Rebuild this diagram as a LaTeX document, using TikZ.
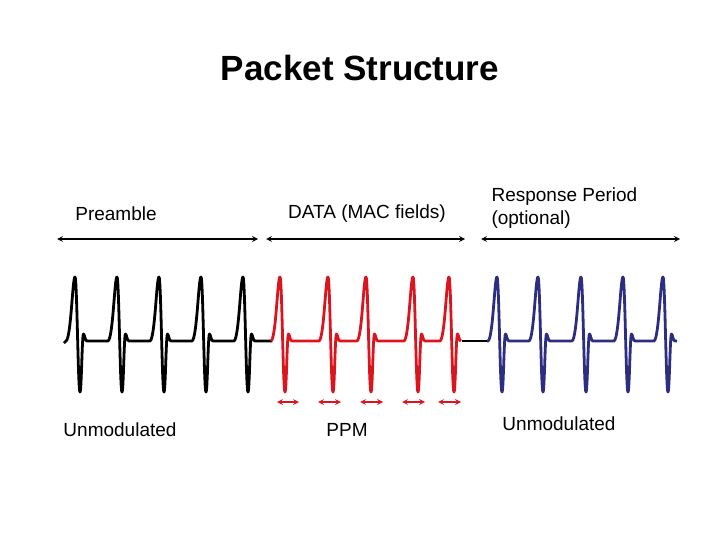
\documentclass[tikz,border=0pt]{standalone}
\usepackage{fontspec}
\setmainfont{Liberation Sans}
\definecolor{pred}{RGB}{220,20,30}
\definecolor{pblue}{RGB}{45,45,130}
\newcommand{\pls}[1]{-- ({#1-9},341) .. controls ({#1-4},339) and ({#1-2.5},277) .. ({#1},277) .. controls ({#1+2},277) and ({#1+3},392) .. ({#1+5},392) .. controls ({#1+6.5},392) and ({#1+7},334) .. ({#1+8.5},334) .. controls ({#1+9.5},334) and ({#1+10},341) .. ({#1+12},341)}
\begin{document}
\begin{tikzpicture}[x=1pt,y=-1pt,
  wave/.style={line width=2.8pt,line join=round},
  span/.style={<->,>=stealth,line width=1.6pt},
  lbl/.style={font=\fontsize{19}{23}\selectfont}]
\useasboundingbox (0,0) rectangle (720,540);
\node[font=\fontsize{35}{40}\selectfont\bfseries] (title) at (360,68) {Packet Structure};
\node[lbl] (pre) at (116,214) {Preamble};
\node[lbl] (data) at (367,214) {DATA (MAC fields)};
\node[lbl,align=left,anchor=west] (resp) at (488,208) {Response Period\\(optional)};
\coordinate (a1) at (57,239); \coordinate (a2) at (258,239);
\coordinate (b1) at (266,239); \coordinate (b2) at (465,239);
\coordinate (c1) at (481,239); \coordinate (c2) at (680,239);
\draw[span] (a1) -- (a2);
\draw[span] (b1) -- (b2);
\draw[span] (c1) -- (c2);
\draw[wave] (64,343) \pls{75} \pls{117} \pls{159} \pls{201} \pls{243} -- (272,341);
\draw[wave] (462,341) -- (488,341);
\draw[wave,pred] (271,341) \pls{280} \pls{328} \pls{366} \pls{413} \pls{449};
\draw[wave,pblue] (487,341) \pls{497} \pls{538} \pls{581} \pls{623} \pls{663} -- (677,341);
\foreach \s/\e [count=\i] in {277/299,318/341,360/383,402/425,438/461}{
  \coordinate (p\i s) at (\s,402); \coordinate (p\i e) at (\e,402);
  \draw[pred,<->,>=stealth,line width=1.6pt] (p\i s) -- (p\i e);}
\node[lbl] (u1) at (120,430) {Unmodulated};
\node[lbl] (ppm) at (347,430) {PPM};
\node[lbl] (u2) at (559,424) {Unmodulated};
\end{tikzpicture}
\end{document}
